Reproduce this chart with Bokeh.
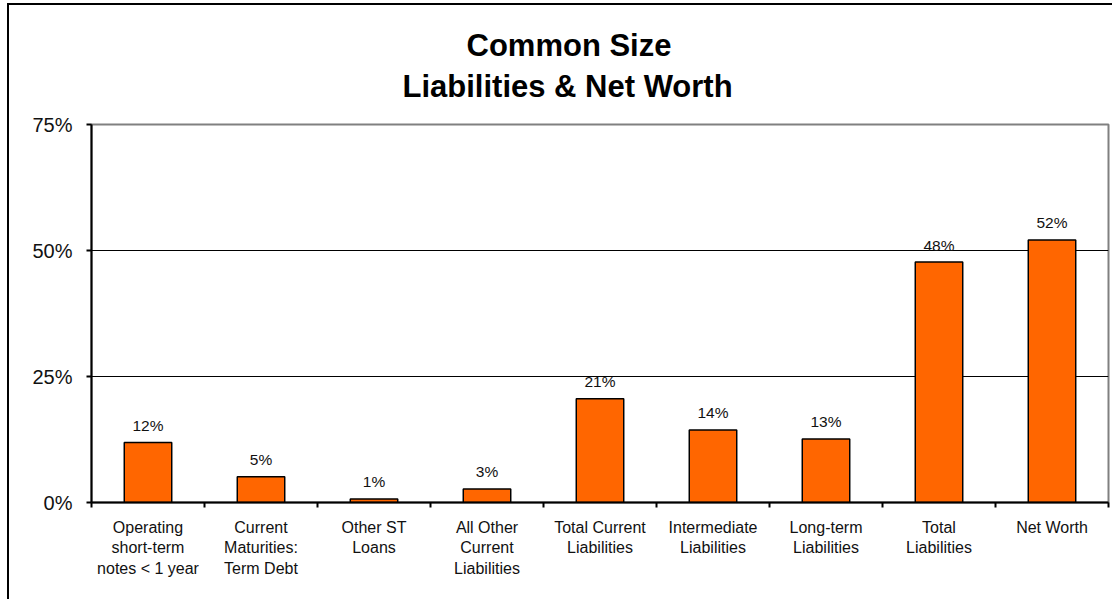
from bokeh.plotting import figure
from bokeh.models import FixedTicker, Title, ColumnDataSource
from bokeh.core.properties import value
from bokeh.embed import file_html
from bokeh.resources import INLINE

categories = ["Operating\nshort-term\nnotes < 1 year", "Current\nMaturities:\nTerm Debt",
              "Other ST\nLoans", "All Other\nCurrent\nLiabilities", "Total Current\nLiabilities",
              "Intermediate\nLiabilities", "Long-term\nLiabilities", "Total\nLiabilities", "Net Worth"]
values = [11.9, 5.1, 0.7, 2.7, 20.6, 14.4, 12.6, 47.7, 52.1]
labels = ["12%", "5%", "1%", "3%", "21%", "14%", "13%", "48%", "52%"]
y_ticks = [0, 25, 50, 75]
y_tick_labels = ["0%", "25%", "50%", "75%"]
title_lines = ["Common Size", "Liabilities & Net Worth"]

FONT = "Liberation Sans"
xs = [i + 0.5 for i in range(len(categories))]

src = ColumnDataSource(dict(x=xs, top=values, label=labels))

p = figure(width=1105, height=596, output_backend="svg", toolbar_location=None,
           x_range=(0, len(categories)), y_range=(0, 75),
           min_border_left=82, min_border_right=6, min_border_top=119, min_border_bottom=99)
p.styles = {"border-left": "2px solid black", "border-top": "2px solid black",
            "margin-left": "7px", "margin-top": "3px"}

p.vbar(x="x", top="top", width=0.42, bottom=0, source=src,
       fill_color="#FF6600", line_color="black", line_width=1.5)
p.text(x="x", y="top", text="label", source=src, y_offset=-17,
       text_align="center", text_baseline="middle",
       text_font=value(FONT), text_font_size="15.5px", text_color="#111111")

# axes
p.xaxis.ticker = FixedTicker(ticks=xs, minor_ticks=list(range(len(categories) + 1)))
p.xaxis.major_label_overrides = {x: c for x, c in zip(xs, categories)}
p.xaxis.major_tick_out = 0
p.xaxis.major_tick_in = 0
p.xaxis.minor_tick_out = 5
p.xaxis.minor_tick_in = 0
p.xaxis.minor_tick_line_color = "black"
p.xaxis.minor_tick_line_width = 2
p.xaxis.axis_line_width = 2
p.xaxis.axis_line_color = "black"
p.xaxis.major_label_text_font = FONT
p.xaxis.major_label_text_font_size = "16px"
p.xaxis.major_label_text_color = "#111111"
p.xaxis.major_label_standoff = 11
p.xaxis.major_label_text_line_height = 1.21

p.yaxis.ticker = FixedTicker(ticks=y_ticks)
p.yaxis.major_label_overrides = {t: l for t, l in zip(y_ticks, y_tick_labels)}
p.yaxis.minor_tick_line_color = None
p.yaxis.major_tick_out = 5
p.yaxis.major_tick_in = 0
p.yaxis.major_tick_line_width = 2
p.yaxis.axis_line_width = 2
p.yaxis.axis_line_color = "black"
p.yaxis.major_label_text_font = FONT
p.yaxis.major_label_text_font_size = "20px"
p.yaxis.major_label_text_color = "#111111"
p.yaxis.major_label_standoff = 14

p.xgrid.grid_line_color = None
p.ygrid.ticker = FixedTicker(ticks=[25, 50])
p.ygrid.grid_line_color = "black"
p.ygrid.grid_line_width = 1

p.outline_line_color = "#808080"
p.outline_line_width = 2

# two title lines: first added sits closest to the frame
p.add_layout(Title(text=title_lines[1], align="left", offset=311, text_font=FONT,
                   text_font_size="31px", text_font_style="bold", text_color="black",
                   standoff=41), "above")
p.add_layout(Title(text=title_lines[0], align="left", offset=375, text_font=FONT,
                   text_font_size="31px", text_font_style="bold", text_color="black",
                   standoff=-32), "above")

open("out.html", "w").write(file_html(p, INLINE))
